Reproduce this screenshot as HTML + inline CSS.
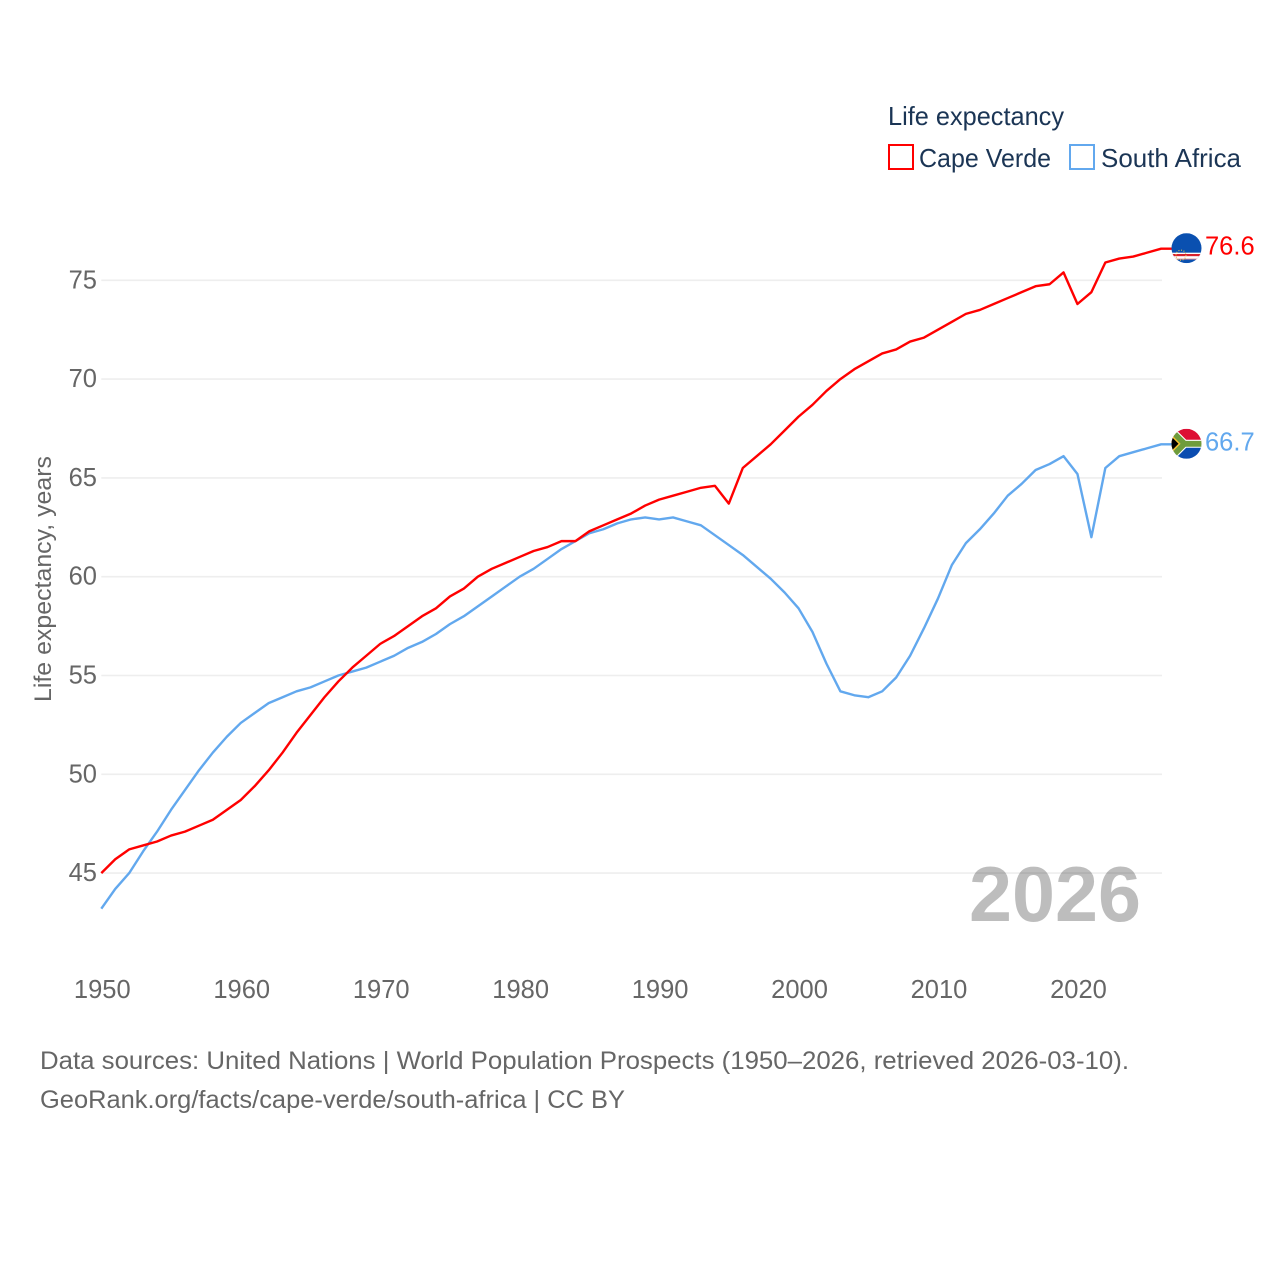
<!DOCTYPE html>
<html lang="en">
<head>
<meta charset="utf-8">
<title>Life expectancy: Cape Verde and South Africa</title>
<style>
  html, body { margin: 0; padding: 0; background: #fff; }
  svg { display: block; font-family: "Liberation Sans", sans-serif; }
</style>
</head>
<body>
<svg id="chart" xmlns="http://www.w3.org/2000/svg" width="1280" height="1280" viewBox="0 0 1280 1280">
  <defs>
    <clipPath id="flag-clip-cv"><circle cx="15" cy="15" r="15"></circle></clipPath>
    <clipPath id="flag-clip-za"><circle cx="15" cy="15" r="15"></circle></clipPath>
  </defs>
  <rect x="0" y="0" width="1280" height="1280" fill="#ffffff"></rect>

  <g id="grid"></g>
  <g id="y-ticks"></g>
  <g id="x-ticks"></g>

  <text transform="translate(51,702) rotate(-90)" font-size="24.5" fill="#666666" textLength="246" lengthAdjust="spacingAndGlyphs">Life expectancy, years</text>

  <g id="lines"></g>

  <text x="969" y="921" font-size="78" font-weight="bold" fill="#000000" fill-opacity="0.26" textLength="172" lengthAdjust="spacingAndGlyphs">2026</text>

  <g id="flag-cv">
    <g clip-path="url(#flag-clip-cv)">
      <rect width="30" height="30" fill="#0a50b0"></rect>
      <rect y="19.5" width="30" height="6.8" fill="#ffffff"></rect>
      <rect y="20.8" width="30" height="2.2" fill="#d8202c"></rect>
      <rect y="25.4" width="30" height="0.9" fill="#e88a90"></rect>
      <circle cx="9.5" cy="22" r="5" fill="none" stroke="#e0c050" stroke-width="1.2" stroke-dasharray="1 1.6"></circle>
    </g>
  </g>
  <g id="flag-za">
    <g clip-path="url(#flag-clip-za)">
      <rect width="30" height="15" fill="#dd0f34"></rect>
      <rect y="15" width="30" height="15" fill="#0a4cb0"></rect>
      <path d="M-2,0 L13,15 L-2,30 M13,15 L32,15" fill="none" stroke="#ffffff" stroke-width="8"></path>
      <path d="M-2,0 L13,15 L-2,30 M13,15 L32,15" fill="none" stroke="#6f9c3c" stroke-width="5.8"></path>
      <polygon points="0,6 9,15 0,24" fill="#f5c02c"></polygon>
      <polygon points="0,8 7,15 0,22" fill="#000000"></polygon>
    </g>
  </g>
  <text id="value-cv" x="1205" font-size="25.5" fill="#ff0000"></text>
  <text id="value-za" x="1205" font-size="25.5" fill="#62a8ee"></text>

  <g>
    <text x="888" y="125" font-size="26" fill="#1b3555" textLength="176" lengthAdjust="spacingAndGlyphs">Life expectancy</text>
    <g>
      <rect x="889" y="145" width="24" height="24" fill="none" stroke="#ff0000" stroke-width="2"></rect>
      <text x="919" y="167" font-size="26" fill="#1b3555" textLength="132" lengthAdjust="spacingAndGlyphs">Cape Verde</text>
    </g>
    <g>
      <rect x="1070" y="145" width="24" height="24" fill="none" stroke="#62a8ee" stroke-width="2"></rect>
      <text x="1101" y="167" font-size="26" fill="#1b3555" textLength="140" lengthAdjust="spacingAndGlyphs">South Africa</text>
    </g>
  </g>

  <text x="40" y="1069" font-size="25" fill="#666666" textLength="1089" lengthAdjust="spacingAndGlyphs">Data sources: United Nations | World Population Prospects (1950–2026, retrieved 2026-03-10).</text>
  <text x="40" y="1108" font-size="25" fill="#666666" textLength="585" lengthAdjust="spacingAndGlyphs">GeoRank.org/facts/cape-verde/south-africa | CC BY</text>
</svg>

<script>
const years = [1950,1951,1952,1953,1954,1955,1956,1957,1958,1959,1960,1961,1962,1963,1964,1965,1966,1967,1968,1969,1970,1971,1972,1973,1974,1975,1976,1977,1978,1979,1980,1981,1982,1983,1984,1985,1986,1987,1988,1989,1990,1991,1992,1993,1994,1995,1996,1997,1998,1999,2000,2001,2002,2003,2004,2005,2006,2007,2008,2009,2010,2011,2012,2013,2014,2015,2016,2017,2018,2019,2020,2021,2022,2023,2024,2025,2026];
const capeVerde = [45.0,45.7,46.2,46.4,46.6,46.9,47.1,47.4,47.7,48.2,48.7,49.4,50.2,51.1,52.1,53.0,53.9,54.7,55.4,56.0,56.6,57.0,57.5,58.0,58.4,59.0,59.4,60.0,60.4,60.7,61.0,61.3,61.5,61.8,61.8,62.3,62.6,62.9,63.2,63.6,63.9,64.1,64.3,64.5,64.6,63.7,65.5,66.1,66.7,67.4,68.1,68.7,69.4,70.0,70.5,70.9,71.3,71.5,71.9,72.1,72.5,72.9,73.3,73.5,73.8,74.1,74.4,74.7,74.8,75.4,73.8,74.4,75.9,76.1,76.2,76.4,76.6];
const southAfrica = [43.2,44.2,45.0,46.1,47.1,48.2,49.2,50.2,51.1,51.9,52.6,53.1,53.6,53.9,54.2,54.4,54.7,55.0,55.2,55.4,55.7,56.0,56.4,56.7,57.1,57.6,58.0,58.5,59.0,59.5,60.0,60.4,60.9,61.4,61.8,62.2,62.4,62.7,62.9,63.0,62.9,63.0,62.8,62.6,62.1,61.6,61.1,60.5,59.9,59.2,58.4,57.2,55.6,54.2,54.0,53.9,54.2,54.9,56.0,57.4,58.9,60.6,61.7,62.4,63.2,64.1,64.7,65.4,65.7,66.1,65.2,62.0,65.5,66.1,66.3,66.5,66.7];
const yTickValues = [45,50,55,60,65,70,75];
const xTickValues = [1950,1960,1970,1980,1990,2000,2010,2020];

const SVG_NS = 'http://www.w3.org/2000/svg';
function xScale(year) { return 101.3 + (year - 1950) * 13.945; }
function yScale(value) { return 280.3 + (75 - value) * 19.76; }
function make(tag, parent) {
  const el = document.createElementNS(SVG_NS, tag);
  parent.appendChild(el);
  return el;
}

const gridGroup = document.getElementById('grid');
const yTickGroup = document.getElementById('y-ticks');
yTickValues.forEach(function (v) {
  const line = make('line', gridGroup);
  
  
  line.setAttribute('x1', 101.3);
  line.setAttribute('x2', 1162);
  line.setAttribute('y1', yScale(v));
  line.setAttribute('y2', yScale(v));
  line.setAttribute('stroke', '#eeeeee');
  line.setAttribute('stroke-width', '1.6');

  const label = make('text', yTickGroup);
  
  
  label.setAttribute('x', 97);
  label.setAttribute('y', yScale(v) + 8);
  label.setAttribute('text-anchor', 'end');
  label.setAttribute('font-size', '25.5');
  label.setAttribute('fill', '#666666');
  label.textContent = v;
});

const xTickGroup = document.getElementById('x-ticks');
xTickValues.forEach(function (y) {
  const label = make('text', xTickGroup);
  
  
  label.setAttribute('x', xScale(y) + 1);
  label.setAttribute('y', 998);
  label.setAttribute('text-anchor', 'middle');
  label.setAttribute('font-size', '25.5');
  label.setAttribute('fill', '#666666');
  label.textContent = y;
});

function seriesPath(values) {
  const pts = values.map(function (v, i) {
    return xScale(years[i]).toFixed(2) + ',' + yScale(v).toFixed(2);
  });
  const last = values[values.length - 1];
  pts.push('1172,' + yScale(last).toFixed(2));
  return 'M' + pts.join(' L');
}

const lineGroup = document.getElementById('lines');

const southAfricaLine = make('path', lineGroup);


southAfricaLine.setAttribute('d', seriesPath(southAfrica));
southAfricaLine.setAttribute('fill', 'none');
southAfricaLine.setAttribute('stroke', '#62a8ee');
southAfricaLine.setAttribute('stroke-width', '2.4');
southAfricaLine.setAttribute('stroke-linejoin', 'round');

const capeVerdeLine = make('path', lineGroup);


capeVerdeLine.setAttribute('d', seriesPath(capeVerde));
capeVerdeLine.setAttribute('fill', 'none');
capeVerdeLine.setAttribute('stroke', '#ff0000');
capeVerdeLine.setAttribute('stroke-width', '2.4');
capeVerdeLine.setAttribute('stroke-linejoin', 'round');

const cvLast = capeVerde[capeVerde.length - 1];
const zaLast = southAfrica[southAfrica.length - 1];
document.getElementById('flag-cv').setAttribute('transform', 'translate(1171.5,' + (yScale(cvLast) - 15.5) + ')');
document.getElementById('flag-za').setAttribute('transform', 'translate(1171.5,' + (yScale(zaLast) - 15.5) + ')');
const cvValue = document.getElementById('value-cv');
cvValue.setAttribute('y', yScale(cvLast) + 6);
cvValue.textContent = cvLast.toFixed(1);
const zaValue = document.getElementById('value-za');
zaValue.setAttribute('y', yScale(zaLast) + 6);
zaValue.textContent = zaLast.toFixed(1);
</script>
</body>
</html>
